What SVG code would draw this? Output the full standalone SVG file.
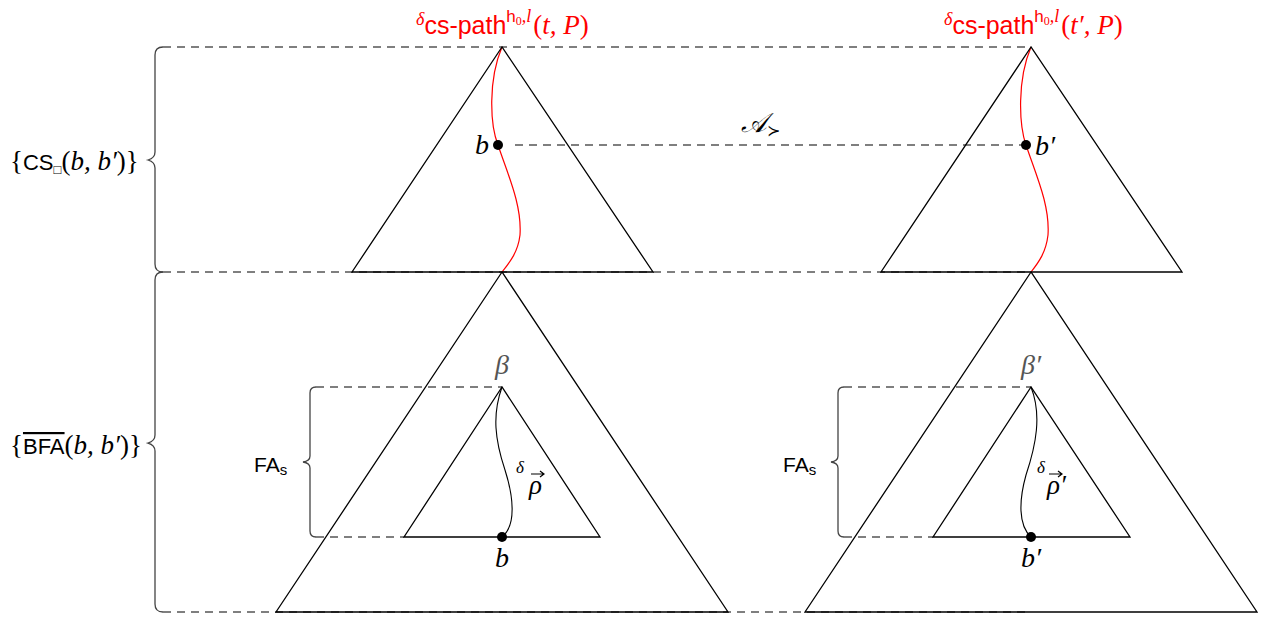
<svg xmlns="http://www.w3.org/2000/svg" width="1265" height="618" viewBox="0 0 1265 618">
<style>
.tri{fill:none;stroke:#000;stroke-width:1.3}
.dash{fill:none;stroke:#555;stroke-width:1.3;stroke-dasharray:8 6}
.brace{fill:none;stroke:#444;stroke-width:1.3}
.red{fill:none;stroke:#f00;stroke-width:1.2}
.blk{fill:none;stroke:#000;stroke-width:1.1}
.m{font-family:"Liberation Serif",serif;font-style:italic}
.u{font-family:"Liberation Serif",serif;font-style:normal}
.s{font-family:"Liberation Sans",Arial,sans-serif;font-style:normal}
.r{fill:#f00}
</style>
<rect width="1265" height="618" fill="#fff"/>
<g id="connectors">
<line class="dash" x1="163" y1="47" x2="1031" y2="47"/>
<line class="dash" x1="163" y1="272" x2="1031" y2="272"/>
<line class="dash" x1="163" y1="612" x2="1031" y2="612"/>
<line class="dash" x1="515" y1="145" x2="1022" y2="145"/>
<line class="dash" x1="316" y1="387" x2="502" y2="387"/>
<line class="dash" x1="316" y1="537" x2="404" y2="537"/>
<line class="dash" x1="844" y1="387" x2="1031" y2="387"/>
<line class="dash" x1="844" y1="537" x2="933" y2="537"/>
<path class="red" d="M502,47 C488,80 490,125 498,145 C508,175 522,205 520,235 C518,252 510,262 502,272"/>
<path class="red" d="M1031,47 C1017,80 1019,125 1026,145 C1036,175 1050,205 1048,235 C1046,252 1039,262 1031,272"/>
<path class="blk" d="M502,387 C492,415 495,440 505,470 C513,495 517,525 502,537"/>
<path class="blk" d="M1031,387 C1042,415 1036,445 1026,475 C1019,500 1018,525 1031,537"/>
</g>
<g id="braces">
<path class="brace" d="M163,47 Q155,47 155,55 L155,152 Q155,158 148,160 Q155,162 155,168 L155,264 Q155,272 163,272"/>
<path class="brace" d="M163,272 Q155,272 155,280 L155,435 Q155,441 148,443 Q155,445 155,451 L155,604 Q155,612 163,612"/>
<path class="brace" d="M316,387 Q310,387 310,393 L310,456 Q310,461 303,462 Q310,463 310,468 L310,531 Q310,537 316,537"/>
<path class="brace" d="M844,387 Q838,387 838,393 L838,456 Q838,461 831,462 Q838,463 838,468 L838,531 Q838,537 844,537"/>
</g>
<g id="tree-t">
<polygon class="tri" points="502,47 352,272 653,272"/>
</g>
<g id="tree-t2">
<polygon class="tri" points="1031,47 881,272 1182,272"/>
</g>
<g id="tree-bfa-left">
<polygon class="tri" points="502,272 276,612 728,612"/>
</g>
<g id="tree-bfa-right">
<polygon class="tri" points="1031,272 805,612 1257,612"/>
</g>
<g id="fa-left">
<polygon class="tri" points="502,387 404,537 600,537"/>
</g>
<g id="fa-right">
<polygon class="tri" points="1031,387 933,537 1130,537"/>
</g>
<g id="node-b">
<circle cx="498" cy="145" r="5"/>
<text class="m" x="489" y="154" font-size="28" text-anchor="end">b</text>
</g>
<g id="node-b2">
<circle cx="1026" cy="145" r="5"/>
<text class="m" x="1035" y="155" font-size="28">b′</text>
</g>
<g id="node-b-low">
<circle cx="502" cy="537" r="5"/>
<text class="m" x="502" y="567" font-size="28" text-anchor="middle">b</text>
</g>
<g id="node-b2-low">
<circle cx="1031" cy="537" r="5"/>
<text class="m" x="1031" y="567" font-size="28" text-anchor="middle">b′</text>
</g>
<g id="labels">
<text class="r" x="416" y="34"><tspan class="m" font-size="18" dy="-9">δ</tspan><tspan class="s" font-size="25" dy="9">cs-path</tspan><tspan class="s" font-size="17" dy="-12">h</tspan><tspan class="u" font-size="12" dy="3">0</tspan><tspan class="m" font-size="18" dy="-3">,l</tspan><tspan class="u" font-size="27" dy="12" dx="2">(</tspan><tspan class="m" font-size="27">t, P</tspan><tspan class="u" font-size="27">)</tspan></text>
<text class="r" x="944" y="34"><tspan class="m" font-size="18" dy="-9">δ</tspan><tspan class="s" font-size="25" dy="9">cs-path</tspan><tspan class="s" font-size="17" dy="-12">h</tspan><tspan class="u" font-size="12" dy="3">0</tspan><tspan class="m" font-size="18" dy="-3">,l</tspan><tspan class="u" font-size="27" dy="12" dx="2">(</tspan><tspan class="m" font-size="27">t′, P</tspan><tspan class="u" font-size="27">)</tspan></text>
<text x="741" y="132" font-size="27" font-family="'DejaVu Serif',serif" font-style="italic">𝒜<tspan font-size="16" dy="4" font-style="normal">≻</tspan></text>
<text x="10" y="170" font-size="27"><tspan class="u">{</tspan><tspan class="s" font-size="22">CS</tspan><tspan class="s" font-size="13" dy="4">□</tspan><tspan class="u" dy="-4">(</tspan><tspan class="m">b, b′</tspan><tspan class="u">)}</tspan></text>
<text x="10" y="454" font-size="27"><tspan class="u">{</tspan><tspan class="s" font-size="22" text-decoration="overline">BFA</tspan><tspan class="u">(</tspan><tspan class="m">b, b′</tspan><tspan class="u">)}</tspan></text>
<text class="s" x="254" y="472" font-size="21">FA<tspan font-size="15" dy="3">s</tspan></text>
<text class="s" x="783" y="472" font-size="21">FA<tspan font-size="15" dy="3">s</tspan></text>
<text class="m" x="502" y="374" font-size="28" text-anchor="middle" fill="#555">β</text>
<text class="m" x="1031" y="374" font-size="28" text-anchor="middle" fill="#555">β′</text>
<text class="m" x="516" y="473" font-size="17">δ</text>
<text class="m" x="529" y="494" font-size="27">ρ</text>
<text class="m" x="1037" y="473" font-size="17">δ</text>
<text class="m" x="1047" y="494" font-size="27">ρ′</text>
</g>
<g id="accents" fill="none" stroke="#000" stroke-width="1.2">
<path d="M531,474 L544,474 M540,471 L544,474 L540,477"/>
<path d="M1049,474 L1062,474 M1058,471 L1062,474 L1058,477"/>
</g>
</svg>
